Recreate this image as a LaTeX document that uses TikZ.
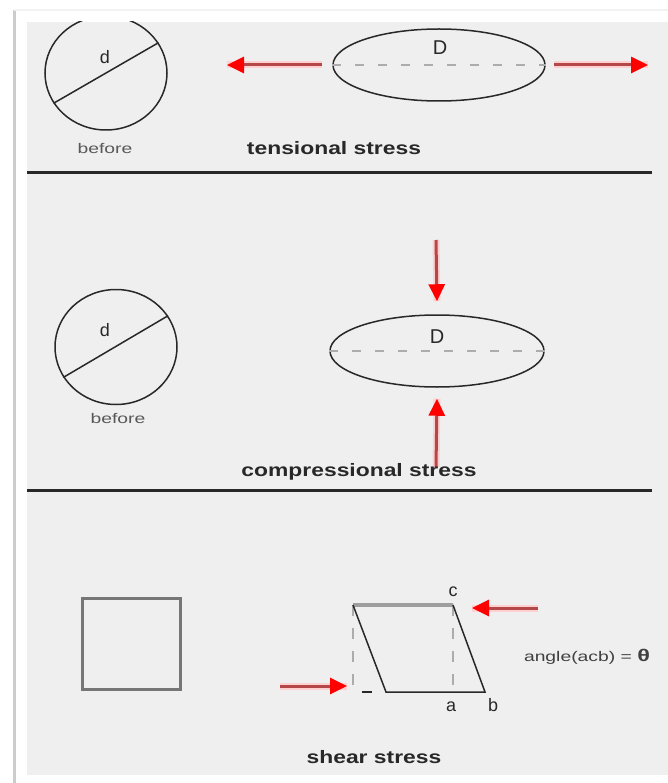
\documentclass[tikz,border=0pt]{standalone}
\usepackage{fontspec}
\setmainfont{Liberation Sans}
\usetikzlibrary{arrows.meta,shapes.geometric}

\definecolor{panel}{RGB}{239,239,239}
\definecolor{ink}{RGB}{40,40,40}
\definecolor{shaft}{RGB}{180,72,72}
\definecolor{glow}{RGB}{255,208,208}
\definecolor{frame}{RGB}{118,118,118}

\tikzset{
  force/.style={line width=3pt, draw=shaft, preaction={draw=glow, line width=7pt, -}, -{Triangle[length=17pt,width=16pt,color=red]}},
  outline/.style={draw=ink, line width=1.5pt},
  axis/.style={draw=gray!65, line width=2pt, dash pattern=on 9pt off 14pt},
  caption/.style={font=\bfseries\fontsize{18}{18}\selectfont, xscale=1.27, text=ink},
  small/.style={font=\fontsize{14}{14}\selectfont, xscale=1.38, text=black!65},
  letter/.style={font=\fontsize{18}{18}\selectfont, text=ink},
  divider/.style={draw=ink, line width=3pt},
}

\begin{document}
\begin{tikzpicture}[x=1pt,y=-1pt]
\useasboundingbox (0,0) rectangle (668,783);
\fill[white] (0,0) rectangle (668,783);
\fill[panel] (27,22) rectangle (668,775);
\draw[line width=3pt, black!20] (14,10)--(14,783); \draw[line width=2pt, black!5] (14,10)--(668,10);

%First Figure
\begin{scope}
\clip (27,22) rectangle (668,775);
\node[outline, ellipse, minimum width=122pt, minimum height=114pt, inner sep=0pt] (ring1) at (106,73){};
\end{scope}
\draw[outline] (ring1.210)--(ring1.30);
\node[letter] (d1) at (105,57){d};
\node[small] (pre1) at (105,148){before};

\node[outline, ellipse, minimum width=212pt, minimum height=72pt, inner sep=0pt] (oval1) at (439,65){};
\draw[axis] (oval1.west)--(oval1.east);
\node[letter, font=\fontsize{20}{20}\selectfont] (D1) at (440,48){D};
\coordinate (pullL) at (227,65); \coordinate (pullR) at (648,65);
\draw[force] ([xshift=-10pt]oval1.west)--(pullL); \draw[force] ([xshift=8pt]oval1.east)--(pullR);
\node[caption] (cap1) at (334,148){tensional stress};
\draw[divider] (27,173)--(652,173);

%Second Figure
\node[outline, ellipse, minimum width=122pt, minimum height=115pt, inner sep=0pt] (ring2) at (116,347){};
\draw[outline] (ring2.210)--(ring2.31);
\node[letter] (d2) at (105,330){d};
\node[small] (pre2) at (118,418){before};

\node[outline, ellipse, minimum width=214pt, minimum height=72pt, inner sep=0pt] (oval2) at (437,351){};
\draw[axis] (oval2.west)--(oval2.east);
\node[letter, font=\fontsize{20}{20}\selectfont] (D2) at (437,337){D};
\coordinate (pushT) at (436,240); \coordinate (pushB) at (436,467);
\draw[force] (pushT)--([yshift=13pt]oval2.north); \draw[force] (pushB)--([yshift=-11pt]oval2.south);
\node[caption] (cap2) at (359,472){compressional stress};
\draw[divider] (27,490)--(652,490);

%Third Figure
\node[draw=frame, line width=3pt, minimum width=98pt, minimum height=91pt, inner sep=0pt] (sq) at (131,643.5){};

\coordinate (o) at (353,605); \coordinate (c) at (453,605); \coordinate (b) at (485,692); \coordinate (e) at (386,692);
\coordinate (a) at (453,692); \coordinate (f) at (353,692); \coordinate (g) at (362,692); \coordinate (h) at (372,692);
\draw[axis, dash pattern=on 11pt off 12pt] (o)--(f); \draw[axis, dash pattern=on 11pt off 12pt] (c)--(a);
\draw[line width=4pt, black!38] (o)--(c);
\draw[outline] (o)--(e)--(b)--(c); \draw[outline] (g)--(h);
\node[letter] (lc) at (453,592){c}; \node[letter] (la) at (451,707){a}; \node[letter] (lb) at (493,705){b};

\coordinate (shT) at (538,608); \coordinate (shTh) at (472,608); \coordinate (shB) at (280,686); \coordinate (shBh) at (347,686);
\draw[force] (shT)--(shTh); \draw[force] (shB)--(shBh);
\node[small, text=black!75] (ang) at (587,657){angle(acb) = {\bfseries\fontsize{17}{17}\selectfont θ}};
\node[caption] (cap3) at (374,757){shear stress};
\end{tikzpicture}
\end{document}
